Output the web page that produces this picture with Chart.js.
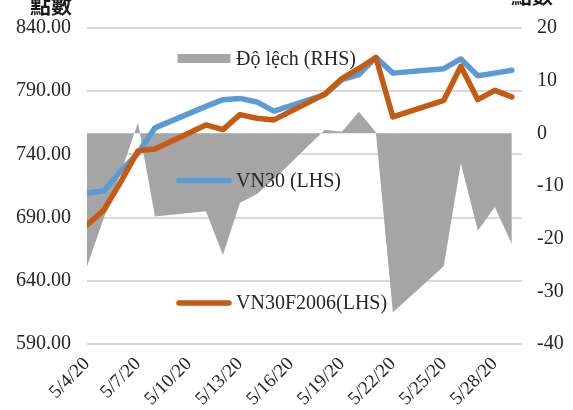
<!DOCTYPE html>
<html>
<head>
<meta charset="utf-8">
<script src="https://cdn.jsdelivr.net/npm/chart.js@4.4.1/dist/chart.umd.min.js"></script>
<style>
    html, body { margin: 0; padding: 0; background: #fff; }
    #wrap { width: 573px; height: 410px; }
</style>
</head>
<body>
<div id="wrap"><canvas id="spreadChart" width="573" height="410"></canvas></div>
<script>
// Trading days (weekends skipped, so the x axis is a real day scale)
const tradeDates = ['5/4/20', '5/5/20', '5/6/20', '5/7/20', '5/8/20',
    '5/11/20', '5/12/20', '5/13/20', '5/14/20', '5/15/20',
    '5/18/20', '5/19/20', '5/20/20', '5/21/20', '5/22/20',
    '5/25/20', '5/26/20', '5/27/20', '5/28/20', '5/29/20'];
const vn30 = [709.5, 711.0, 727.0, 741.0, 761.0, 778.0, 783.3, 784.3, 781.5, 774.2,
    787.3, 799.2, 803.2, 816.8, 804.3, 807.8, 815.5, 802.2, 804.3, 806.6];
const vn30f = [684.3, 696.0, 718.6, 742.8, 744.3, 763.3, 759.6, 771.5, 768.6, 767.3,
    787.8, 800.0, 808.0, 816.6, 769.6, 782.8, 809.7, 783.3, 790.7, 785.5];
const spread = [-25.3, -16.0, -7.4, 2.0, -15.8, -14.8, -23.1, -13.2, -11.5, -8.7,
    0.7, 0.3, 4.1, 0.2, -34.0, -25.2, -5.7, -18.5, -14.0, -21.0];
const leftTicks = [590, 640, 690, 740, 790, 840];
const rightTicks = [-40, -30, -20, -10, 0, 10, 20];
const xTickDates = ['5/4/20', '5/7/20', '5/10/20', '5/13/20', '5/16/20',
    '5/19/20', '5/22/20', '5/25/20', '5/28/20'];
const seriesNames = ['VN30F2006(LHS)', 'VN30 (LHS)', 'Độ lệch (RHS)'];

const START = Date.UTC(2020, 4, 4);
const DAY = 86400000;
const SERIF = "'Liberation Serif', 'Times New Roman', serif";

function dayOffset(label) {
    const [m, d, y] = label.split('/').map(Number);
    return (Date.UTC(2000 + y, m - 1, d) - START) / DAY;
}

function dayLabel(offset) {
    const dt = new Date(START + offset * DAY);
    return `${dt.getUTCMonth() + 1}/${dt.getUTCDate()}/20`;
}

function toPoints(values) {
    return values.map((v, i) => ({ x: dayOffset(tradeDates[i]), y: v }));
}

// Excel-style legend scattered inside the plot, plus the two axis captions
const overlayPlugin = {
    id: 'overlay',
    afterDraw(chart) {
        const ctx = chart.ctx;
        const area = chart.chartArea;
        const sets = chart.data.datasets;
        const x0 = area.left + 92;
        const rows = [
            { ds: sets[2], y: area.top + 30.5, box: true },
            { ds: sets[1], y: area.top + 152.5 },
            { ds: sets[0], y: area.top + 275 }
        ];
        ctx.save();
        rows.forEach(row => {
            if (row.box) {
                ctx.fillStyle = row.ds.backgroundColor;
                ctx.fillRect(x0 - 1.5, row.y - 4.5, 53, 9);
            } else {
                ctx.strokeStyle = row.ds.borderColor;
                ctx.lineWidth = row.ds.borderWidth;
                ctx.lineCap = 'round';
                ctx.beginPath();
                ctx.moveTo(x0, row.y);
                ctx.lineTo(x0 + 50, row.y);
                ctx.stroke();
            }
            ctx.fillStyle = '#262626';
            ctx.font = `20px ${SERIF}`;
            ctx.textBaseline = 'middle';
            ctx.textAlign = 'left';
            ctx.fillText(row.ds.label, x0 + 57, row.y + 1);
        });

        ctx.font = "bold 21px 'Noto Sans CJK TC', sans-serif";
        ctx.fillStyle = '#1a1a1a';
        ctx.textAlign = 'center';
        ctx.textBaseline = 'middle';
        ctx.fillText('點數', 51, 5);
        ctx.fillText('點數', 532, -5);
        ctx.restore();
    }
};

document.addEventListener('DOMContentLoaded', () => {
    const canvas = document.getElementById('spreadChart');
    Chart.defaults.font.family = SERIF;
    Chart.defaults.color = '#262626';

    new Chart(canvas.getContext('2d'), {
        type: 'line',
        data: {
            datasets: [
                {
                    label: seriesNames[0],
                    data: toPoints(vn30f),
                    yAxisID: 'y',
                    borderColor: '#c55a11',
                    borderWidth: 5.5,
                    borderJoinStyle: 'round',
                    borderCapStyle: 'round',
                    pointRadius: 0,
                    fill: false,
                    order: 1
                },
                {
                    label: seriesNames[1],
                    data: toPoints(vn30),
                    yAxisID: 'y',
                    borderColor: '#5b9bd5',
                    borderWidth: 5.5,
                    borderJoinStyle: 'round',
                    borderCapStyle: 'round',
                    pointRadius: 0,
                    fill: false,
                    order: 2
                },
                {
                    label: seriesNames[2],
                    data: toPoints(spread),
                    yAxisID: 'y1',
                    backgroundColor: '#a5a5a5',
                    borderWidth: 0,
                    pointRadius: 0,
                    fill: 'origin',
                    order: 3
                }
            ]
        },
        options: {
            responsive: false,
            animation: false,
            layout: { padding: { top: 28, left: 0, right: 0, bottom: 0 } },
            plugins: {
                legend: { display: false },
                tooltip: { enabled: false }
            },
            scales: {
                x: {
                    type: 'linear',
                    min: 0,
                    max: 25.6,
                    grid: { display: false, drawTicks: false },
                    border: { display: false },
                    afterBuildTicks: scale => {
                        scale.ticks = xTickDates.map(d => ({ value: dayOffset(d) }));
                    },
                    afterFit: scale => { scale.height = 66; },
                    ticks: {
                        font: { size: 19 },
                        minRotation: 45,
                        maxRotation: 45,
                        autoSkip: false,
                        padding: 9,
                        callback: value => dayLabel(value)
                    }
                },
                y: {
                    position: 'left',
                    min: 590,
                    max: 840,
                    grid: { color: '#d9d9d9', lineWidth: 2, drawTicks: false },
                    border: { display: false },
                    afterBuildTicks: scale => {
                        scale.ticks = leftTicks.map(v => ({ value: v }));
                    },
                    afterFit: scale => { scale.width = 87; },
                    ticks: {
                        font: { size: 20 },
                        padding: 16,
                        callback: value => value.toFixed(2)
                    }
                },
                y1: {
                    position: 'right',
                    min: -40,
                    max: 20,
                    grid: { display: false, drawTicks: false },
                    border: { display: false },
                    afterBuildTicks: scale => {
                        scale.ticks = rightTicks.map(v => ({ value: v }));
                    },
                    afterFit: scale => { scale.width = 51; },
                    ticks: {
                        font: { size: 20 },
                        padding: 15
                    }
                }
            }
        },
        plugins: [overlayPlugin]
    });
});
</script>
</body>
</html>
